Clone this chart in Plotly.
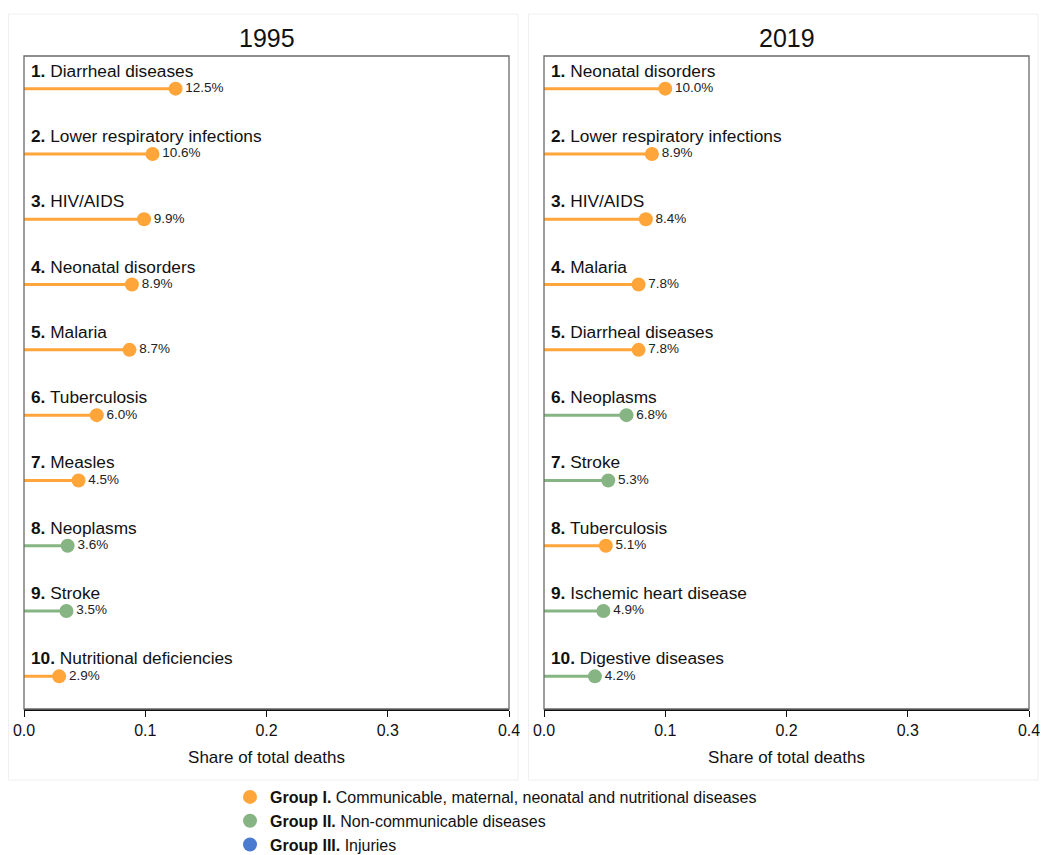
import plotly.graph_objects as go

# ---- data ----
ranks = [1, 2, 3, 4, 5, 6, 7, 8, 9, 10]

causes_1995 = ["Diarrheal diseases", "Lower respiratory infections", "HIV/AIDS",
               "Neonatal disorders", "Malaria", "Tuberculosis", "Measles",
               "Neoplasms", "Stroke", "Nutritional deficiencies"]
shares_1995 = [0.125, 0.106, 0.099, 0.089, 0.087, 0.060, 0.045, 0.036, 0.035, 0.029]
groups_1995 = ["I", "I", "I", "I", "I", "I", "I", "II", "II", "I"]

causes_2019 = ["Neonatal disorders", "Lower respiratory infections", "HIV/AIDS",
               "Malaria", "Diarrheal diseases", "Neoplasms", "Stroke",
               "Tuberculosis", "Ischemic heart disease", "Digestive diseases"]
shares_2019 = [0.100, 0.089, 0.084, 0.078, 0.078, 0.068, 0.053, 0.051, 0.049, 0.042]
groups_2019 = ["I", "I", "I", "I", "I", "II", "II", "I", "II", "II"]

years = ["1995", "2019"]
x_ticks = [0.0, 0.1, 0.2, 0.3, 0.4]
x_tick_labels = ["0.0", "0.1", "0.2", "0.3", "0.4"]

group_keys = ["I", "II", "III"]
group_names = ["<b>Group I.</b> Communicable, maternal, neonatal and nutritional diseases",
               "<b>Group II.</b> Non-communicable diseases",
               "<b>Group III.</b> Injuries"]
group_colors = {"I": "#FFA53A", "II": "#86B583", "III": "#4A7BD0"}

FONT = "Liberation Sans, Arial, sans-serif"
W, H = 1042, 855

def px_x(p):
    return p / W

def px_y(p):
    return 1 - p / H

domains_x = [[px_x(24), px_x(509)], [px_x(544), px_x(1029)]]
domain_y = [px_y(709), px_y(56)]

fig = go.Figure()
panels = [(causes_1995, shares_1995, groups_1995), (causes_2019, shares_2019, groups_2019)]

annotations = []
shapes = []
for pi, (causes, shares, groups) in enumerate(panels):
    xa = "x" if pi == 0 else "x2"
    ya = "y" if pi == 0 else "y2"
    for r, c, v, g in zip(ranks, causes, shares, groups):
        col = group_colors[g]
        fig.add_trace(go.Scatter(
            x=[0, v], y=[r, r], xaxis=xa, yaxis=ya,
            mode="lines+markers+text",
            line=dict(color=col, width=3),
            marker=dict(color=col, size=[0, 14], opacity=1, line=dict(width=0)),
            text=["", f"{v*100:.1f}%"], textposition="middle right",
            textfont=dict(family=FONT, size=13.5, color="#222"),
            showlegend=False, hoverinfo="skip", cliponaxis=False,
        ))
        annotations.append(dict(
            x=0, y=r, xref=xa, yref=ya, xanchor="left", yanchor="middle",
            xshift=5, yshift=18, showarrow=False,
            text=f"<b>{r}.</b> {c}",
            font=dict(family=FONT, size=17.3, color="#111"),
        ))
    # panel title
    annotations.append(dict(
        x=0.5, y=px_y(38), xref=("x domain" if pi == 0 else "x2 domain"), yref="paper",
        xanchor="center", yanchor="middle", showarrow=False, text=years[pi],
        font=dict(family=FONT, size=25, color="#111"),
    ))
    # plot-area box
    shapes.append(dict(type="rect", xref=("x domain" if pi == 0 else "x2 domain"),
                       yref=("y domain" if pi == 0 else "y2 domain"),
                       x0=0, x1=1, y0=0, y1=1, line=dict(color="#6a6a6a", width=1.3),
                       layer="above"))
    # outer faint panel
    x0p = 8 if pi == 0 else 528
    shapes.append(dict(type="rect", xref="paper", yref="paper",
                       x0=px_x(x0p + 0.5), x1=px_x(x0p + 510),
                       y0=px_y(780), y1=px_y(14),
                       line=dict(color="#f0f0f0", width=1), layer="below"))

# legend dummies
for k, name in zip(group_keys, group_names):
    fig.add_trace(go.Scatter(x=[None], y=[None], mode="markers", name=name,
                             marker=dict(color=group_colors[k], size=14),
                             showlegend=True))

axis_common_x = dict(range=[0, 0.4], tickvals=x_ticks, ticktext=x_tick_labels,
                     ticks="outside", ticklen=6, tickcolor="#111", tickwidth=1.3,
                     showline=True, linecolor="#111", linewidth=1.5,
                     showgrid=False, zeroline=False, automargin=False,
                     ticklabeloverflow="allow",
                     tickfont=dict(family=FONT, size=16, color="#111"),
                     title=dict(text="Share of total deaths",
                                font=dict(family=FONT, size=17, color="#111"), standoff=13))
axis_common_y = dict(range=[10.5, 0.5], showticklabels=False, ticks="", showgrid=False,
                     zeroline=False, showline=False, automargin=False)

fig.update_layout(
    width=W, height=H,
    margin=dict(l=0, r=0, t=0, b=0, autoexpand=False),
    paper_bgcolor="white", plot_bgcolor="white",
    xaxis=dict(domain=domains_x[0], anchor="y", **axis_common_x),
    xaxis2=dict(domain=domains_x[1], anchor="y2", **axis_common_x),
    yaxis=dict(domain=domain_y, anchor="x", **axis_common_y),
    yaxis2=dict(domain=domain_y, anchor="x2", **axis_common_y),
    annotations=annotations, shapes=shapes,
    showlegend=True,
    legend=dict(x=px_x(230), y=px_y(780), xanchor="left", yanchor="top",
                orientation="v", bgcolor="rgba(0,0,0,0)",
                font=dict(family=FONT, size=16, color="#111"),
                tracegroupgap=0, itemclick=False),
)

fig.write_html("out.html", config={"displayModeBar": False},
               post_script="document.body.style.margin='0';document.body.style.overflow='hidden';")
